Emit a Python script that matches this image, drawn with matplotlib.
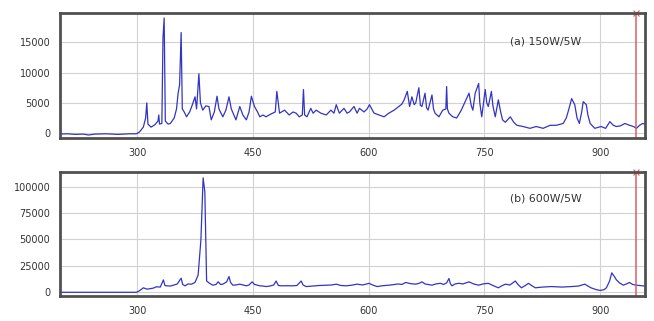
import matplotlib
matplotlib.use("Agg")
import matplotlib.pyplot as plt

# спектр (a) 150W/5W: длина волны, интенсивность
wl_a = [200, 210, 220, 230, 237, 245, 260, 275, 290, 299, 303, 308, 311, 312.5, 314,
        318, 323, 327, 328, 329, 332, 333.5, 335, 336.5, 340, 343, 348, 351, 353, 355,
        357, 358.5, 361, 364, 368, 371, 375, 377, 380, 382, 385, 389, 393, 396, 400,
        403.5, 406, 411, 415, 419, 422, 428, 433, 437, 441.5, 445, 448, 452, 456, 459,
        463, 467, 471, 474, 479, 481, 484.5, 491, 497, 502, 506, 510, 514, 515.5, 517,
        520, 525, 528, 532, 538, 545, 551, 555, 558, 562, 568, 572, 575, 581, 585,
        588, 594, 598, 601, 607, 613.5, 620, 626, 633, 639, 643, 646, 650, 653, 656,
        659, 661, 665, 667, 669, 673, 675, 677, 682, 684, 686, 691, 696, 700, 701,
        702, 704, 709, 714, 720, 726, 730, 733, 735, 738, 742.5, 744, 746.5, 751, 753,
        755, 759, 761, 764, 768, 771, 773.5, 777, 783.5, 788, 792, 800, 809, 817, 826,
        835, 843, 852, 856, 859, 863, 867, 870, 873, 876, 878, 882, 884, 887, 893,
        901, 907, 912.5, 917, 921, 926, 932, 938, 943, 947, 951, 955, 958]
int_a = [-150, -100, -200, -150, -300, -150, -100, -200, -100, -100, 200, 1000, 2500, 5000, 1500,
         1000, 1400, 2000, 3000, 1500, 1600, 15800, 19000, 2000, 1500, 1600, 2500, 4000, 6500, 8000,
         16600, 4000, 3500, 2700, 3500, 4500, 6000, 4000, 9800, 5000, 3800, 4500, 4400, 2200, 3500,
         6100, 4000, 2700, 3800, 6000, 4000, 2200, 4400, 3000, 2200, 3500, 6100, 4400, 3500, 2700,
         3000, 2700, 3000, 3200, 3500, 6900, 3300, 3800, 3000, 3500, 3300, 2700, 3000, 7200, 3000,
         2700, 4100, 3300, 3800, 3300, 3000, 3800, 3300, 4700, 3300, 4100, 3300, 3500, 4400, 3300,
         4100, 3500, 4000, 4700, 3300, 3000, 2700, 3300, 3800, 4400, 4800, 5500, 6900, 4400, 6000,
         4700, 5000, 7500, 4600, 4400, 6600, 4200, 3800, 6300, 4000, 3300, 2700, 3800, 4000, 7700,
         4000, 3300, 2700, 2500, 3800, 5500, 6600, 4500, 3800, 6600, 8200, 5000, 2700, 7200, 5000,
         4400, 6900, 4500, 2700, 5500, 3500, 2200, 1800, 2700, 1800, 1300, 1100, 800, 1100, 800,
         1300, 1300, 1600, 2500, 3800, 5700, 4700, 2500, 1600, 3500, 5200, 4700, 3000, 1600, 800,
         1100, 800, 1900, 1300, 1100, 1200, 1600, 1300, 1100, 800, 1300, 1600, 1500]

# спектр (b) 600W/5W
wl_b = [200, 220, 240, 260, 280, 299, 303, 308, 313, 317, 321, 325, 330, 334, 336,
        338, 343, 347, 352, 357, 359, 362, 366, 370.6, 375, 379, 382.6, 385.5, 387.7, 390,
        394, 398, 402, 405, 408, 411, 416, 419, 421, 424, 428, 433, 437, 441.5, 445,
        449, 452, 459, 463, 467, 472, 477, 480, 483, 487, 494, 501, 507, 512.5, 515,
        519, 527, 536, 545, 552, 558, 564, 570.6, 578, 585, 592, 600.6, 605, 611, 618,
        626, 632, 638, 643, 648, 654, 661, 665, 669, 673, 677, 682, 687, 693, 697,
        701, 704, 706, 708, 712, 717, 722, 726, 730, 736, 742.6, 748, 755, 761, 768,
        772, 777, 783, 790, 794, 798, 803, 807, 811, 816, 825, 837, 850, 863, 872,
        880, 884, 888, 895, 900, 905, 908, 912, 915, 918, 921, 925, 930, 934, 938,
        942, 947, 951, 955, 958]
int_b = [-500, -500, -500, -500, -500, -500, 1000, 3800, 2500, 3000, 3500, 4800, 4500, 11400, 6000,
         5700, 5500, 6300, 7500, 13000, 7000, 5700, 7500, 7300, 9000, 16000, 49500, 109000, 95500, 10300,
         8000, 6300, 7000, 9500, 7000, 7300, 9500, 14600, 9000, 6300, 6500, 7300, 6500, 5700, 6500,
         9500, 7000, 5700, 5500, 5000, 5500, 6500, 10300, 6000, 5700, 5800, 5700, 6000, 10300, 6500,
         5000, 5500, 6000, 6300, 6500, 7300, 6000, 5700, 6300, 7300, 6500, 8100, 6500, 5000, 5800,
         6300, 6800, 7500, 7000, 8900, 7800, 7300, 8000, 9500, 7500, 7000, 6300, 7500, 8100, 7000,
         8500, 12700, 7500, 5700, 7500, 8100, 7500, 8500, 9500, 7500, 6300, 7500, 8100, 6000, 3800,
         5500, 7300, 6500, 10300, 6500, 3800, 6000, 8100, 6000, 3800, 4500, 5000, 4500, 5000, 5500,
         7300, 5500, 3800, 2000, 1300, 2000, 3800, 10000, 18100, 15000, 11400, 8500, 6300, 7500, 8900,
         7000, 6300, 6000, 5700, 5500]

xticks = [300, 450, 600, 750, 900]
yticks_a = [0, 5000, 10000, 15000]
yticks_b = [0, 25000, 50000, 75000, 100000]
marker_wl = 947

fig = plt.figure(figsize=(6.54, 3.21), dpi=100)
ax1 = fig.add_axes([0.0917, 0.570, 0.8945, 0.389])
ax2 = fig.add_axes([0.0917, 0.078, 0.8945, 0.386])

panels = [(ax1, wl_a, int_a, yticks_a, (-800, 19800), "(a) 150W/5W", 0.77),
          (ax2, wl_b, int_b, yticks_b, (-4000, 114500), "(b) 600W/5W", 0.79)]

for ax, x, y, yt, ylim, label, ty in panels:
    ax.plot(x, y, color="#3434c4", lw=0.9)
    ax.set_xlim(200, 958)
    ax.set_ylim(*ylim)
    ax.set_xticks(xticks)
    ax.set_yticks(yt)
    ax.grid(True, color="#d2d2d2", lw=0.8)
    ax.set_axisbelow(True)
    ax.tick_params(length=0, labelsize=7, labelcolor="#333333", pad=7)
    for s in ax.spines.values():
        s.set_color("#505050")
        s.set_linewidth(2)
    ax.axvline(marker_wl, color="#d86060", lw=1.1)
    ax.plot([marker_wl], [ylim[1]], marker="x", color="#d86060", ms=4, mew=0.8, clip_on=False)
    ax.text(0.77, ty, label, transform=ax.transAxes, fontsize=7.8, color="#333333",
            va="center", ha="left")

fig.savefig("out.png", dpi=100)
